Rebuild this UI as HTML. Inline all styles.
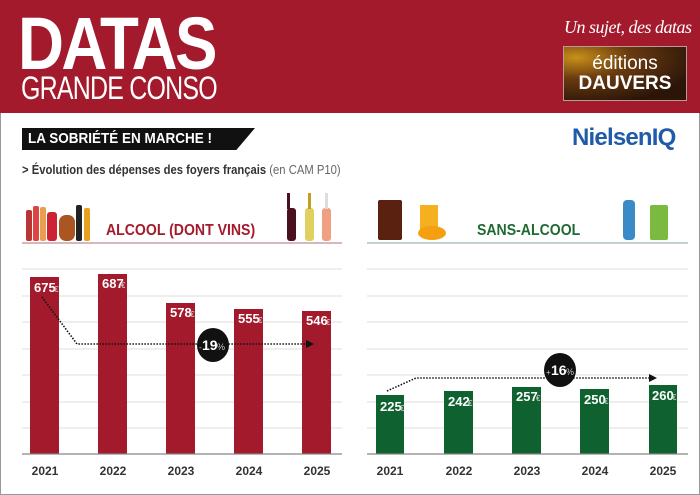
<!DOCTYPE html>
<html><head><meta charset="utf-8"><style>
*{margin:0;padding:0;box-sizing:border-box}
body{width:700px;height:495px;overflow:hidden;background:#fff;font-family:"Liberation Sans",sans-serif;position:relative}
.a{position:absolute;white-space:nowrap}
</style></head><body>
<div class="a" style="left:0;top:0;width:700px;height:495px;border:1px solid #999"></div>
<div class="a" style="left:0;top:0;width:700px;height:113px;background:#a31a2c"></div>
<div class="a" style="left:18px;top:4px;font-size:74px;font-weight:bold;color:#fff;letter-spacing:-3px;transform:scaleX(0.86);transform-origin:left;line-height:80px">DATAS</div>
<div class="a" style="left:21px;top:70px;font-size:32px;color:#fff;transform:scaleX(0.78);transform-origin:left;letter-spacing:-1px">GRANDE CONSO</div>
<div class="a" style="left:564px;top:17px;font-family:'Liberation Serif',serif;font-style:italic;font-size:18px;color:#fff;letter-spacing:-0.5px">Un sujet, des datas</div>
<div class="a" style="left:563px;top:46px;width:124px;height:55px;border:1px solid #b99;background:radial-gradient(ellipse at 10% 20%,#c8901a 0%,#6a3a10 35%,#2a1508 80%);color:#fff;text-align:center">
<div style="font-size:19px;line-height:20px;margin-top:7px">éditions</div>
<div style="font-size:19px;font-weight:bold;line-height:20px">DAUVERS</div></div>
<div class="a" style="left:22px;top:128px;width:233px;height:22px;background:#111;clip-path:polygon(0 0,100% 0,92% 100%,0 100%)"></div>
<div class="a" style="left:28px;top:130px;font-size:15px;font-weight:bold;color:#fff;transform:scaleX(0.9);transform-origin:left">LA SOBRIÉTÉ EN MARCHE !</div>
<div class="a" style="left:572px;top:124px;font-size:24px;font-weight:bold;color:#1f5ba8;letter-spacing:-0.8px">NielsenIQ</div>
<div class="a" style="left:22px;top:163px;font-size:12.5px;color:#333;transform:scaleX(0.9);transform-origin:left"><b>&gt; Évolution des dépenses des foyers français</b> <span style="color:#666">(en CAM P10)</span></div>
<div class="a" style="left:106px;top:222px;font-size:16px;font-weight:bold;color:#a31a2c;transform:scaleX(0.88);transform-origin:left">ALCOOL (DONT VINS)</div>
<div class="a" style="left:477px;top:222px;font-size:16px;font-weight:bold;color:#1f6a33;transform:scaleX(0.88);transform-origin:left">SANS-ALCOOL</div>
<svg class="a" style="left:0;top:0" width="700" height="495">
<line x1="22" y1="243" x2="342" y2="243" stroke="#c9a0a6" stroke-width="1.5"/>
<line x1="367" y1="243" x2="688" y2="243" stroke="#a9c9b6" stroke-width="1.5"/>
<g>
<rect x="26" y="210" width="6" height="31" fill="#b33" rx="2"/><rect x="33" y="206" width="6" height="35" fill="#d44" rx="2"/>
<rect x="40" y="207" width="6" height="34" fill="#e8a050" rx="2"/><rect x="47" y="212" width="10" height="29" fill="#c23" rx="3"/>
<rect x="59" y="215" width="16" height="26" fill="#a52" rx="7"/><rect x="76" y="205" width="6" height="36" fill="#222" rx="2"/>
<rect x="84" y="208" width="6" height="33" fill="#e8a020" rx="2"/>
<rect x="287" y="208" width="9" height="33" fill="#4a1020" rx="3"/><rect x="287" y="193" width="3" height="16" fill="#4a1020"/>
<rect x="305" y="208" width="9" height="33" fill="#e0d060" rx="3"/><rect x="308" y="193" width="3" height="16" fill="#c0a020"/>
<rect x="322" y="208" width="9" height="33" fill="#f0a080" rx="3"/><rect x="325" y="193" width="3" height="16" fill="#ddd"/>
</g>
<g>
<rect x="378" y="200" width="24" height="40" fill="#5a2010" rx="2"/><rect x="420" y="205" width="18" height="28" fill="#f5b020"/>
<ellipse cx="432" cy="233" rx="14" ry="7" fill="#f5a010"/>
<rect x="623" y="200" width="12" height="40" fill="#3a8ac8" rx="4"/><rect x="650" y="205" width="18" height="35" fill="#7aba40" rx="2"/>
</g>
<g stroke="#ddd" stroke-width="1">
<line x1="22" y1="269" x2="342" y2="269"/><line x1="22" y1="296" x2="342" y2="296"/><line x1="22" y1="322" x2="342" y2="322"/><line x1="22" y1="349" x2="342" y2="349"/><line x1="22" y1="375" x2="342" y2="375"/><line x1="22" y1="402" x2="342" y2="402"/><line x1="22" y1="428" x2="342" y2="428"/>
<line x1="367" y1="269" x2="688" y2="269"/><line x1="367" y1="296" x2="688" y2="296"/><line x1="367" y1="322" x2="688" y2="322"/><line x1="367" y1="349" x2="688" y2="349"/><line x1="367" y1="375" x2="688" y2="375"/><line x1="367" y1="402" x2="688" y2="402"/><line x1="367" y1="428" x2="688" y2="428"/>
</g>
<g fill="#a31a2c">
<rect x="30" y="277" width="29" height="177"/><rect x="98" y="274" width="29" height="180"/><rect x="166" y="303" width="29" height="151"/><rect x="234" y="309" width="29" height="145"/><rect x="302" y="311" width="29" height="143"/>
</g>
<g fill="#0f6130">
<rect x="376" y="395" width="28" height="59"/><rect x="444" y="391" width="29" height="63"/><rect x="512" y="387" width="29" height="67"/><rect x="580" y="389" width="29" height="65"/><rect x="649" y="385" width="28" height="69"/>
</g>
<line x1="22" y1="454" x2="342" y2="454" stroke="#888" stroke-width="1.2"/>
<line x1="367" y1="454" x2="688" y2="454" stroke="#888" stroke-width="1.2"/>
<g font-size="13" font-weight="bold" fill="#fff" font-family="Liberation Sans">
<text x="34" y="292">675</text><text x="102" y="288">687</text><text x="170" y="317">578</text><text x="238" y="323">555</text><text x="306" y="325">546</text>
<text x="380" y="411">225</text><text x="448" y="406">242</text><text x="516" y="401">257</text><text x="584" y="404">250</text><text x="652" y="400">260</text>
</g>
<g font-size="8" fill="#ddd"><text x="54" y="292">€</text><text x="121" y="288">€</text><text x="190" y="317">€</text><text x="258" y="323">€</text><text x="326" y="325">€</text>
<text x="400" y="411">€</text><text x="468" y="406">€</text><text x="536" y="401">€</text><text x="604" y="404">€</text><text x="672" y="400">€</text></g>
<g fill="none" stroke="#111" stroke-width="1.6" stroke-dasharray="1.5 1.5">
<polyline points="42,297 77,344 310,344"/><polyline points="387,391 416,378 651,378"/></g>
<polygon points="314,344 306,340 306,348" fill="#111"/><polygon points="657,378 649,374 649,382" fill="#111"/>
<ellipse cx="213" cy="345" rx="16" ry="17" fill="#111"/><ellipse cx="560" cy="370" rx="16" ry="17" fill="#111"/>
<text x="202" y="350" font-size="14" font-weight="bold" fill="#fff">19</text><text x="217" y="350" font-size="9" fill="#ccc">%</text><text x="199" y="350" font-size="8" fill="#ccc">-</text>
<text x="551" y="375" font-size="14" font-weight="bold" fill="#fff">16</text><text x="566" y="375" font-size="9" fill="#ccc">%</text><text x="546" y="375" font-size="8" fill="#ccc">+</text>
<g font-size="12" font-weight="bold" fill="#333" text-anchor="middle">
<text x="45" y="475">2021</text><text x="113" y="475">2022</text><text x="181" y="475">2023</text><text x="249" y="475">2024</text><text x="317" y="475">2025</text>
<text x="390" y="475">2021</text><text x="459" y="475">2022</text><text x="527" y="475">2023</text><text x="595" y="475">2024</text><text x="663" y="475">2025</text>
</g>
</svg>
</body></html>
